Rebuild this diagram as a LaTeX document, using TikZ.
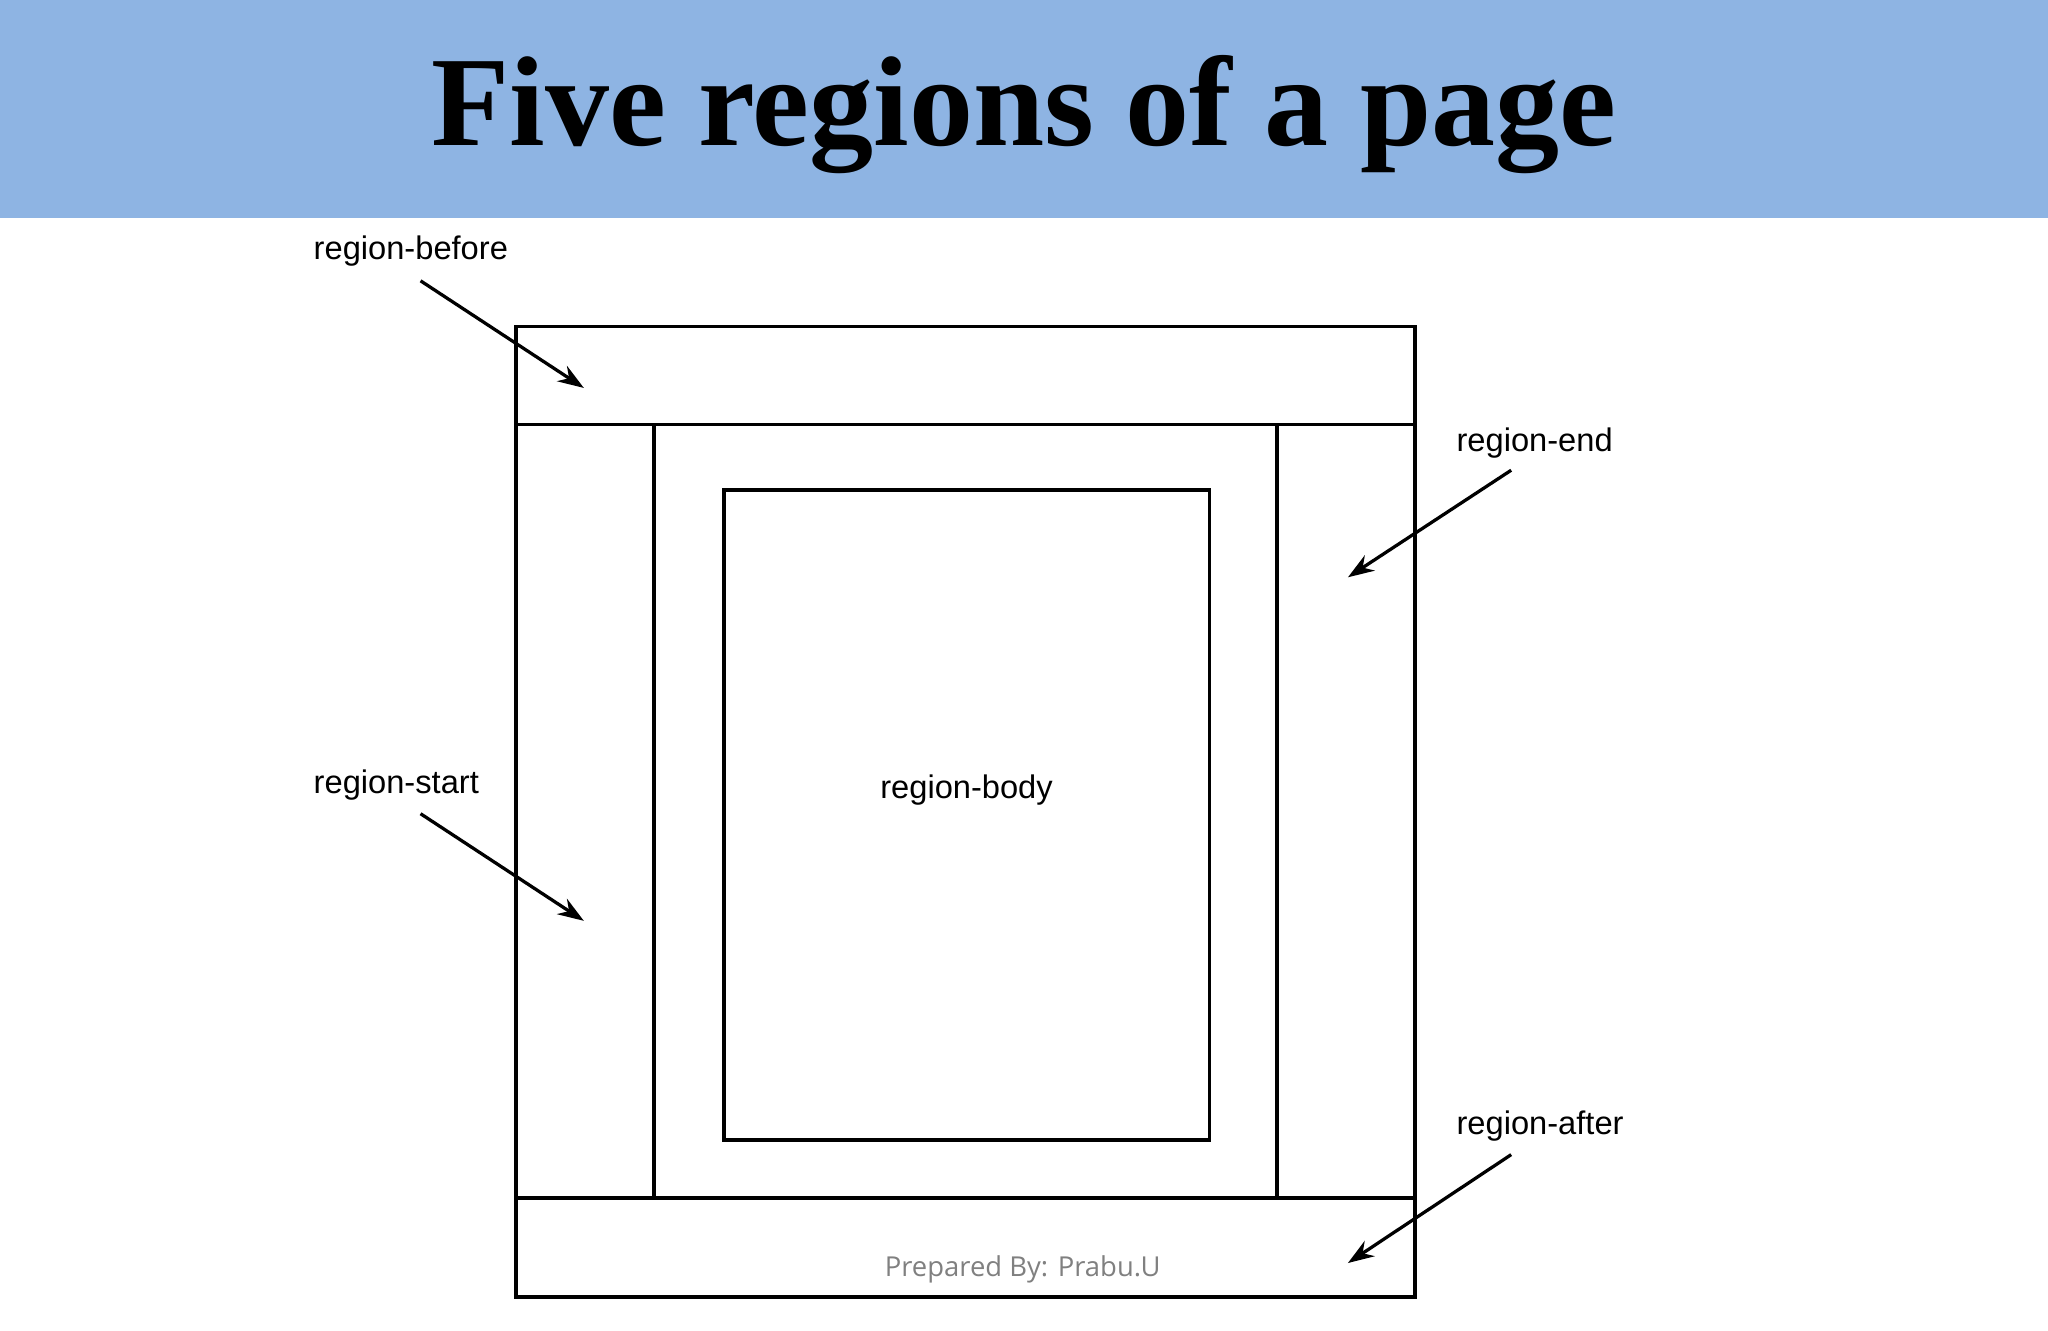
\documentclass[tikz,border=0pt]{standalone}
\usepackage{fontspec}
\setmainfont{Liberation Sans}
\newfontfamily\titlefont{Liberation Serif}
\newfontfamily\prepfont{Open Sans}
\usetikzlibrary{arrows.meta}
\definecolor{band}{HTML}{8EB4E3}
\begin{document}
\begin{tikzpicture}[x=1pt,y=-1pt,
  box/.style={draw=black,line width=3pt},
  lbl/.style={font=\fontsize{25}{28}\selectfont,anchor=west,inner sep=0},
  arr/.style={line width=2.5pt,-{Stealth[length=20pt,width=14pt]}}]
\useasboundingbox (0,0) rectangle (1568,1019);
\fill[white] (0,0) rectangle (1568,1019);
\fill[band] (0,0) rectangle (1568,167);
\node[font=\titlefont\bfseries\fontsize{98}{100}\selectfont] (title) at (784,88) {Five regions of a page};
\draw[box] (395,250) rectangle (1083,993);
\draw[box] (395,325) -- (1083,325);
\draw[box] (395,917) -- (1083,917);
\draw[box] (501,325) -- (501,917);
\draw[box] (978,325) -- (978,917);
\draw[box] (554,375) rectangle (926,873);
\node[lbl] (before) at (240,192) {region-before};
\node[lbl] (end) at (1115,339) {region-end};
\node[lbl] (start) at (240,601) {region-start};
\node[lbl] (after) at (1115,862) {region-after};
\node[font=\fontsize{25}{28}\selectfont,inner sep=0] (body) at (740,605) {region-body};
\node[font=\prepfont\fontsize{21}{24}\selectfont,text=gray,inner sep=0] (prep) at (783,972) {Prepared By: Prabu.U};
\coordinate (b1) at (322,215); \coordinate (b2) at (447,297);
\coordinate (e1) at (1157,360); \coordinate (e2) at (1032,442);
\coordinate (s1) at (322,623); \coordinate (s2) at (447,705);
\coordinate (a1) at (1157,884); \coordinate (a2) at (1032,967);
\draw[arr] (b1) -- (b2);
\draw[arr] (e1) -- (e2);
\draw[arr] (s1) -- (s2);
\draw[arr] (a1) -- (a2);
\end{tikzpicture}
\end{document}
